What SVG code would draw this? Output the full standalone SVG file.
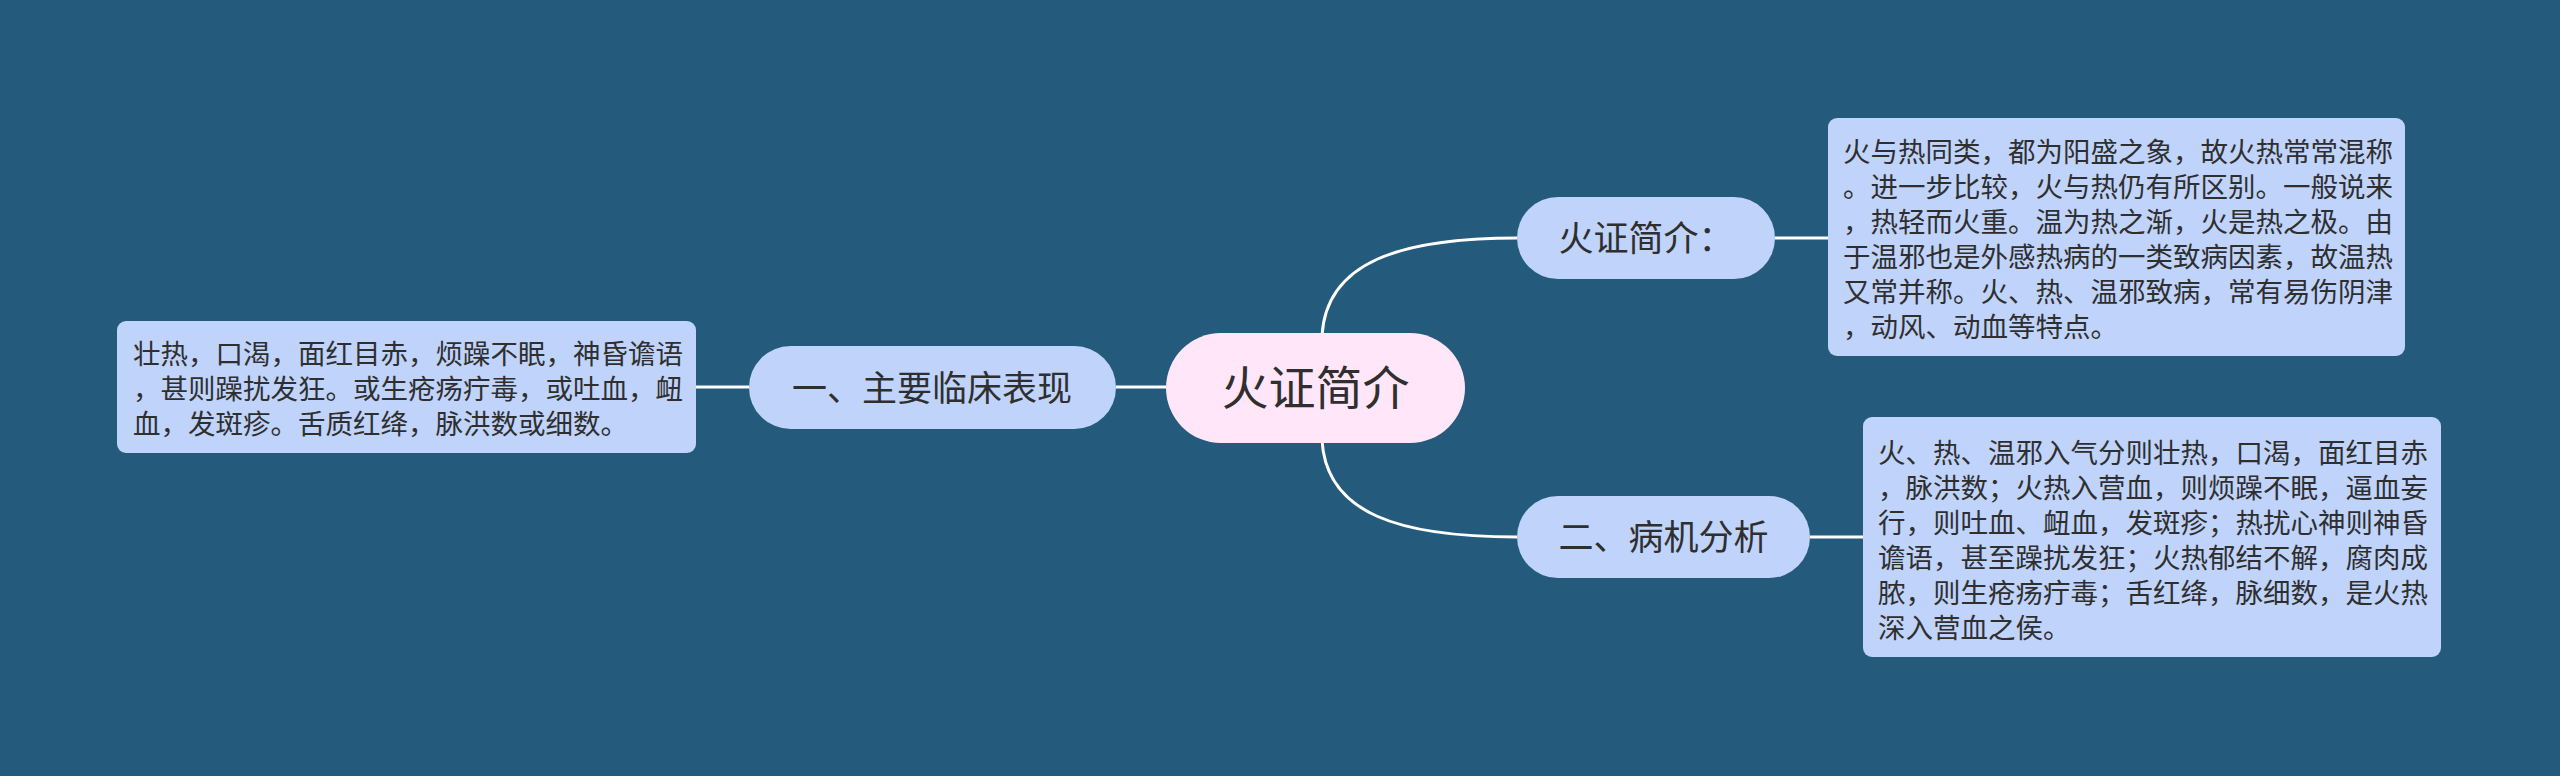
<svg xmlns="http://www.w3.org/2000/svg" width="2560" height="776" viewBox="0 0 2560 776">
<style>
text { font-family: "Noto Sans CJK SC", "Noto Sans", sans-serif; fill: #2f2f2f; }
.node { fill: #bfd3fb; }
.center { fill: #ffe6f8; }
.box { fill: #bfd3fb; }
.main { font-size: 35px; }
.big { font-size: 47px; }
.small { font-size: 27.5px; }
.conn { fill: none; stroke: #ffffff; stroke-width: 3; }
</style>
<rect x="0" y="0" width="2560" height="776" fill="#245a7c"/>
<g id="connectors">
  <path class="conn" d="M696,387 L749,387"/>
  <path class="conn" d="M1116,387 L1166,387"/>
  <path class="conn" d="M1322,336 C1326,262 1400,238 1517,238"/>
  <path class="conn" d="M1322,440 C1326,514 1400,537 1517,537"/>
  <path class="conn" d="M1775,238 L1828,238"/>
  <path class="conn" d="M1810,537 L1863,537"/>
</g>
<g id="center">
  <rect class="center" x="1166" y="333" width="299" height="110" rx="55"/>
  <text class="big" x="1315.5" y="405" text-anchor="middle">火证简介</text>
</g>
<g id="node-left">
  <rect class="node" x="749" y="346" width="367" height="83" rx="41.5"/>
  <text class="main" x="932" y="400.5" text-anchor="middle">一、主要临床表现</text>
</g>
<g id="node-top">
  <rect class="node" x="1517" y="197" width="258" height="82" rx="41"/>
  <text class="main" x="1646" y="251" text-anchor="middle">火证简介：</text>
</g>
<g id="node-bottom">
  <rect class="node" x="1517" y="496" width="293" height="82" rx="41"/>
  <text class="main" x="1663.5" y="550" text-anchor="middle">二、病机分析</text>
</g>
<g id="box-left">
  <rect class="box" x="117" y="321" width="579" height="132" rx="9"/>
  <text class="small" x="133">
    <tspan x="133" y="363.5">壮热，口渴，面红目赤，烦躁不眠，神昏谵语</tspan>
    <tspan x="133" y="398.5">，甚则躁扰发狂。或生疮疡疔毒，或吐血，衄</tspan>
    <tspan x="133" y="433.5">血，发斑疹。舌质红绛，脉洪数或细数。</tspan>
  </text>
</g>
<g id="box-top">
  <rect class="box" x="1828" y="118" width="577" height="238" rx="9"/>
  <text class="small" x="1843">
    <tspan x="1843" y="161.5">火与热同类，都为阳盛之象，故火热常常混称</tspan>
    <tspan x="1843" y="196.5">。进一步比较，火与热仍有所区别。一般说来</tspan>
    <tspan x="1843" y="231.5">，热轻而火重。温为热之渐，火是热之极。由</tspan>
    <tspan x="1843" y="266.5">于温邪也是外感热病的一类致病因素，故温热</tspan>
    <tspan x="1843" y="301.5">又常并称。火、热、温邪致病，常有易伤阴津</tspan>
    <tspan x="1843" y="336.5">，动风、动血等特点。</tspan>
  </text>
</g>
<g id="box-bottom">
  <rect class="box" x="1863" y="417" width="578" height="240" rx="9"/>
  <text class="small" x="1878">
    <tspan x="1878" y="462.5">火、热、温邪入气分则壮热，口渴，面红目赤</tspan>
    <tspan x="1878" y="497.5">，脉洪数；火热入营血，则烦躁不眠，逼血妄</tspan>
    <tspan x="1878" y="532.5">行，则吐血、衄血，发斑疹；热扰心神则神昏</tspan>
    <tspan x="1878" y="567.5">谵语，甚至躁扰发狂；火热郁结不解，腐肉成</tspan>
    <tspan x="1878" y="602.5">脓，则生疮疡疔毒；舌红绛，脉细数，是火热</tspan>
    <tspan x="1878" y="637.5">深入营血之侯。</tspan>
  </text>
</g>
</svg>
